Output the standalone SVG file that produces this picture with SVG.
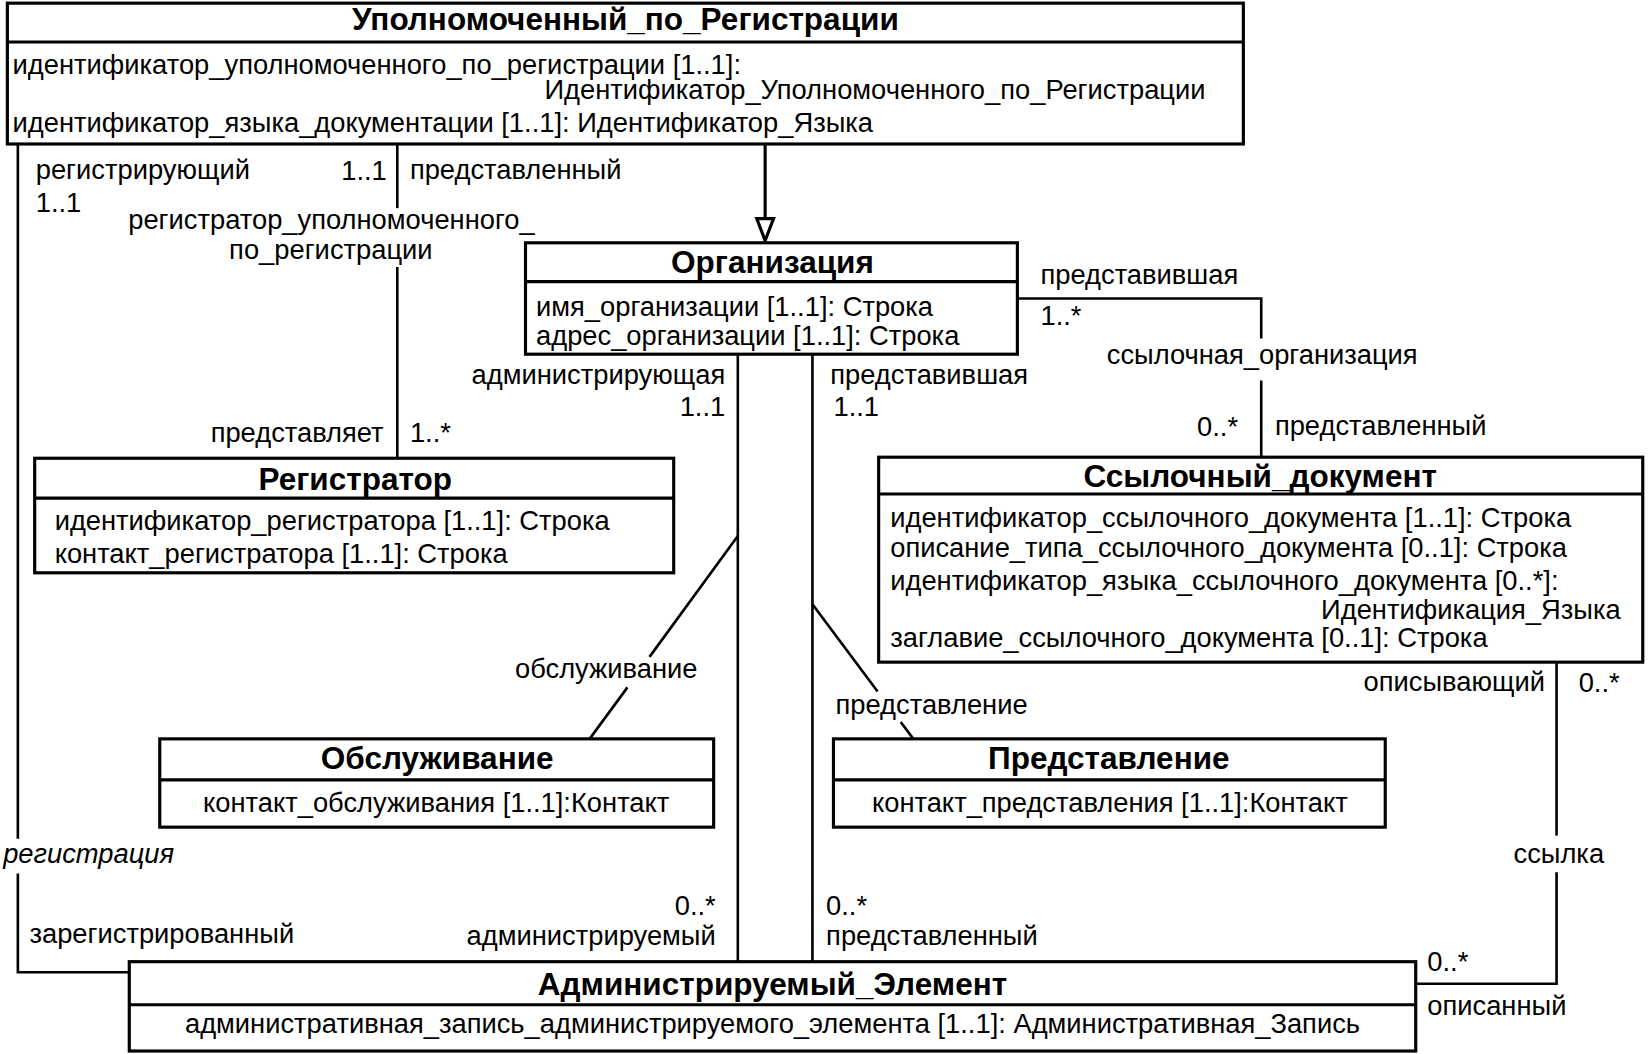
<svg xmlns="http://www.w3.org/2000/svg" width="1648" height="1054" viewBox="0 0 1648 1054">
<style>
.t{font-family:"Liberation Sans",Arial,sans-serif;font-size:26px;fill:#000}
.b{font-family:"Liberation Sans",Arial,sans-serif;font-size:30px;font-weight:bold;fill:#000}
.i{font-family:"Liberation Sans",Arial,sans-serif;font-size:26px;font-style:italic;fill:#000}
.m{text-anchor:middle}
.e{text-anchor:end}
.box{fill:#fff;stroke:#000;stroke-width:3}
.div{stroke:#000;stroke-width:3}
.c{fill:none;stroke:#000;stroke-width:2.5}
.g{fill:none;stroke:#000;stroke-width:3}
</style>
<rect x="0" y="0" width="1648" height="1054" fill="#fff"/>
<g transform="scale(1.05102)">
<g id="connectors">
  <!-- регистрация -->
  <path class="c" d="M17,137 V798"/>
  <path class="c" d="M17,831 V925 H123"/>
  <!-- регистратор_уполномоченного_по_регистрации -->
  <path class="c" d="M378,137 V198"/>
  <path class="c" d="M378,254 V436"/>
  <!-- generalization -->
  <path class="g" d="M728,137 V208"/>
  <polygon class="g" points="720,208 736,208 728,229" fill="#fff"/>
  <!-- администрирующая / администрируемый -->
  <path class="c" d="M702,337 V915"/>
  <!-- представившая / представленный -->
  <path class="c" d="M773,337 V915"/>
  <!-- обслуживание -->
  <path class="c" d="M702,510 L618,625"/>
  <path class="c" d="M597,654 L561,703"/>
  <!-- представление -->
  <path class="c" d="M773,575 L835,658"/>
  <path class="c" d="M857,687 L869,703"/>
  <!-- ссылочная_организация -->
  <path class="c" d="M968,284 H1200 V322"/>
  <path class="c" d="M1200,362 V435"/>
  <!-- ссылка -->
  <path class="c" d="M1481,630 V795"/>
  <path class="c" d="M1481,830 V936 H1347"/>
  <!-- labels -->
  <text class="t" x="34" y="170">регистрирующий</text>
  <text class="t" x="34" y="202">1..1</text>
  <text class="t e" x="368" y="171">1..1</text>
  <text class="t" x="390" y="170">представленный</text>
  <text class="t" x="122" y="218">регистратор_уполномоченного_</text>
  <text class="t" x="218" y="246">по_регистрации</text>
  <text class="t e" x="365" y="421">представляет</text>
  <text class="t" x="390" y="421">1..*</text>
  <text class="t" x="990" y="270">представившая</text>
  <text class="t" x="990" y="309">1..*</text>
  <text class="t" x="1053" y="346">ссылочная_организация</text>
  <text class="t e" x="1178" y="415">0..*</text>
  <text class="t" x="1213" y="414">представленный</text>
  <text class="t e" x="690" y="365">администрирующая</text>
  <text class="t e" x="690" y="396">1..1</text>
  <text class="t" x="790" y="365">представившая</text>
  <text class="t" x="793" y="396">1..1</text>
  <text class="t" x="490" y="645">обслуживание</text>
  <text class="t" x="795" y="679">представление</text>
  <text class="t e" x="1470" y="657">описывающий</text>
  <text class="t" x="1502" y="658">0..*</text>
  <text class="i" x="3" y="821">регистрация</text>
  <text class="t" x="1440" y="821">ссылка</text>
  <text class="t" x="28" y="897">зарегистрированный</text>
  <text class="t e" x="681" y="871">0..*</text>
  <text class="t e" x="681" y="899">администрируемый</text>
  <text class="t" x="786" y="871">0..*</text>
  <text class="t" x="786" y="899">представленный</text>
  <text class="t" x="1358" y="924">0..*</text>
  <text class="t" x="1358" y="966">описанный</text>
</g>
<g id="node-upolnomochenny">
  <rect class="box" x="7" y="3" width="1176" height="134"/>
  <line class="div" x1="7" y1="40" x2="1183" y2="40"/>
  <text class="b m" x="595" y="29">Уполномоченный_по_Регистрации</text>
  <text class="t" x="12" y="70">идентификатор_уполномоченного_по_регистрации [1..1]:</text>
  <text class="t e" x="1147" y="94">Идентификатор_Уполномоченного_по_Регистрации</text>
  <text class="t" x="12" y="126">идентификатор_языка_документации [1..1]: Идентификатор_Языка</text>
</g>
<g id="node-organizaciya">
  <rect class="box" x="500" y="231" width="468" height="106"/>
  <line class="div" x1="500" y1="268" x2="968" y2="268"/>
  <text class="b m" x="735" y="260">Организация</text>
  <text class="t" x="510" y="301">имя_организации [1..1]: Строка</text>
  <text class="t" x="510" y="328">адрес_организации [1..1]: Строка</text>
</g>
<g id="node-registrator">
  <rect class="box" x="33" y="436" width="608" height="109"/>
  <line class="div" x1="33" y1="474" x2="641" y2="474"/>
  <text class="b m" x="338" y="466">Регистратор</text>
  <text class="t" x="52" y="504">идентификатор_регистратора [1..1]: Строка</text>
  <text class="t" x="52" y="536">контакт_регистратора [1..1]: Строка</text>
</g>
<g id="node-ssylochny">
  <rect class="box" x="836" y="435" width="727" height="195"/>
  <line class="div" x1="836" y1="470" x2="1563" y2="470"/>
  <text class="b m" x="1199" y="463">Ссылочный_документ</text>
  <text class="t" x="847" y="501">идентификатор_ссылочного_документа [1..1]: Строка</text>
  <text class="t" x="847" y="530">описание_типа_ссылочного_документа [0..1]: Строка</text>
  <text class="t" x="847" y="561">идентификатор_языка_ссылочного_документа [0..*]:</text>
  <text class="t e" x="1542" y="589">Идентификация_Языка</text>
  <text class="t" x="847" y="616">заглавие_ссылочного_документа [0..1]: Строка</text>
</g>
<g id="node-obsluzhivanie">
  <rect class="box" x="152" y="703" width="527" height="84"/>
  <line class="div" x1="152" y1="742" x2="679" y2="742"/>
  <text class="b m" x="416" y="732">Обслуживание</text>
  <text class="t m" x="415" y="773">контакт_обслуживания [1..1]:Контакт</text>
</g>
<g id="node-predstavlenie">
  <rect class="box" x="793" y="703" width="525" height="84"/>
  <line class="div" x1="793" y1="742" x2="1318" y2="742"/>
  <text class="b m" x="1055" y="732">Представление</text>
  <text class="t m" x="1056" y="773">контакт_представления [1..1]:Контакт</text>
</g>
<g id="node-administriruemy">
  <rect class="box" x="123" y="915" width="1224" height="85"/>
  <line class="div" x1="123" y1="956" x2="1347" y2="956"/>
  <text class="b m" x="735" y="947">Администрируемый_Элемент</text>
  <text class="t m" x="735" y="983">административная_запись_администрируемого_элемента [1..1]: Административная_Запись</text>
</g>
</g>
</svg>
